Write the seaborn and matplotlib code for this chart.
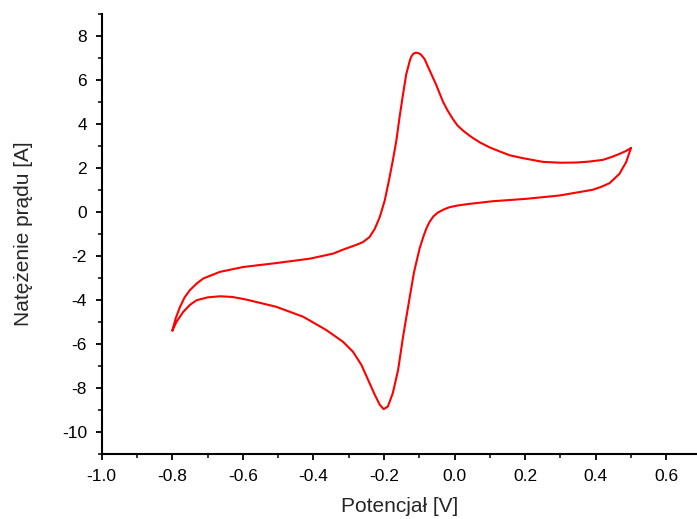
import matplotlib
matplotlib.use("Agg")
import matplotlib.pyplot as plt
import seaborn as sns
import pandas as pd
from matplotlib.ticker import MultipleLocator

# Upper branch (scan from 0.5 V back to -0.8 V)
x_upper = [0.500, 0.484, 0.467, 0.445, 0.420, 0.380, 0.344, 0.300, 0.250, 0.193, 0.156,
           0.127, 0.099, 0.071,
           0.045, 0.024, 0.008, -0.005, -0.020, -0.033, -0.052, -0.071, -0.085,
           -0.094, -0.099, -0.107, -0.113, -0.118, -0.123, -0.127, -0.137,
           -0.146, -0.156, -0.165, -0.175, -0.186, -0.198, -0.212, -0.226, -0.241,
           -0.260, -0.278, -0.316, -0.344, -0.410, -0.505, -0.599, -0.665, -0.712,
           -0.730, -0.750, -0.765, -0.778, -0.790, -0.800]
y_upper = [2.91, 2.76, 2.64, 2.50, 2.37, 2.29, 2.25, 2.24, 2.28, 2.45, 2.58,
           2.76, 2.94, 3.17,
           3.44, 3.70, 3.94, 4.23, 4.62, 5.02, 5.78, 6.45, 6.95,
           7.13, 7.20, 7.24, 7.23, 7.17, 7.05, 6.87, 6.26,
           5.36, 4.30, 3.24, 2.34, 1.43, 0.52, -0.23, -0.76, -1.14,
           -1.37, -1.49, -1.71, -1.89, -2.12, -2.32, -2.50, -2.72, -3.02,
           -3.24, -3.55, -3.88, -4.31, -4.82, -5.40]

# Lower branch (scan from -0.8 V to 0.5 V)
x_lower = [-0.800, -0.788, -0.769, -0.750, -0.731, -0.700, -0.665, -0.630, -0.590, -0.505,
           -0.429, -0.363,
           -0.316, -0.288, -0.264, -0.245, -0.226, -0.212, -0.201, -0.189, -0.175,
           -0.160, -0.146, -0.127, -0.115, -0.099, -0.088, -0.080, -0.071, -0.060,
           -0.047, -0.030, -0.014, 0.010, 0.042, 0.108, 0.203, 0.297, 0.391, 0.415,
           0.439, 0.467, 0.486, 0.500]
y_lower = [-5.40, -4.99, -4.54, -4.22, -4.01, -3.88, -3.83, -3.86, -3.98, -4.31,
           -4.76, -5.37,
           -5.90, -6.35, -6.95, -7.63, -8.31, -8.76, -8.96, -8.84, -8.23,
           -7.18, -5.67, -3.86, -2.74, -1.65, -1.10, -0.75, -0.45, -0.20,
           -0.02, 0.12, 0.22, 0.30, 0.37, 0.49, 0.60, 0.75, 1.01, 1.14,
           1.31, 1.73, 2.26, 2.91]

x_ticks = [-1.0, -0.8, -0.6, -0.4, -0.2, 0.0, 0.2, 0.4, 0.6]
y_ticks = [-10, -8, -6, -4, -2, 0, 2, 4, 6, 8]

df = pd.DataFrame({
    "E": x_upper + x_lower,
    "I": y_upper + y_lower,
})

sns.set_style("ticks")
plt.rcParams["font.family"] = ["Liberation Sans", "DejaVu Sans"]

fig = plt.figure(figsize=(6.97, 5.19), dpi=100)
ax = fig.add_axes([0.1459, 0.1252, 1.0 - 0.1459, 0.973 - 0.1252])

sns.lineplot(data=df, x="E", y="I", sort=False, estimator=None,
             color="#ff0000", linewidth=1.5, ax=ax)

ax.set_xlim(-1.0, 0.687)
ax.set_ylim(-11, 9)
ax.set_xticks(x_ticks)
ax.set_yticks(y_ticks)
ax.set_xticklabels([f"{v:.1f}" for v in x_ticks])
ax.set_yticklabels([str(v) for v in y_ticks])
ax.xaxis.set_minor_locator(MultipleLocator(0.1))
ax.yaxis.set_minor_locator(MultipleLocator(1))

for s in ["top", "right"]:
    ax.spines[s].set_visible(False)
for s in ["left", "bottom"]:
    ax.spines[s].set_linewidth(1.5)
    ax.spines[s].set_color("black")

ax.tick_params(which="major", direction="out", length=4.5, width=1.3,
               labelsize=12.5, pad=6, colors="black")
ax.tick_params(which="minor", direction="out", length=3, width=1.1, colors="black")

ax.set_xlabel("Potencjał [V]", fontsize=15, labelpad=9.5)
ax.set_ylabel("Natężenie prądu [A]", fontsize=15, labelpad=21)

fig.savefig("out.png", dpi=100)
